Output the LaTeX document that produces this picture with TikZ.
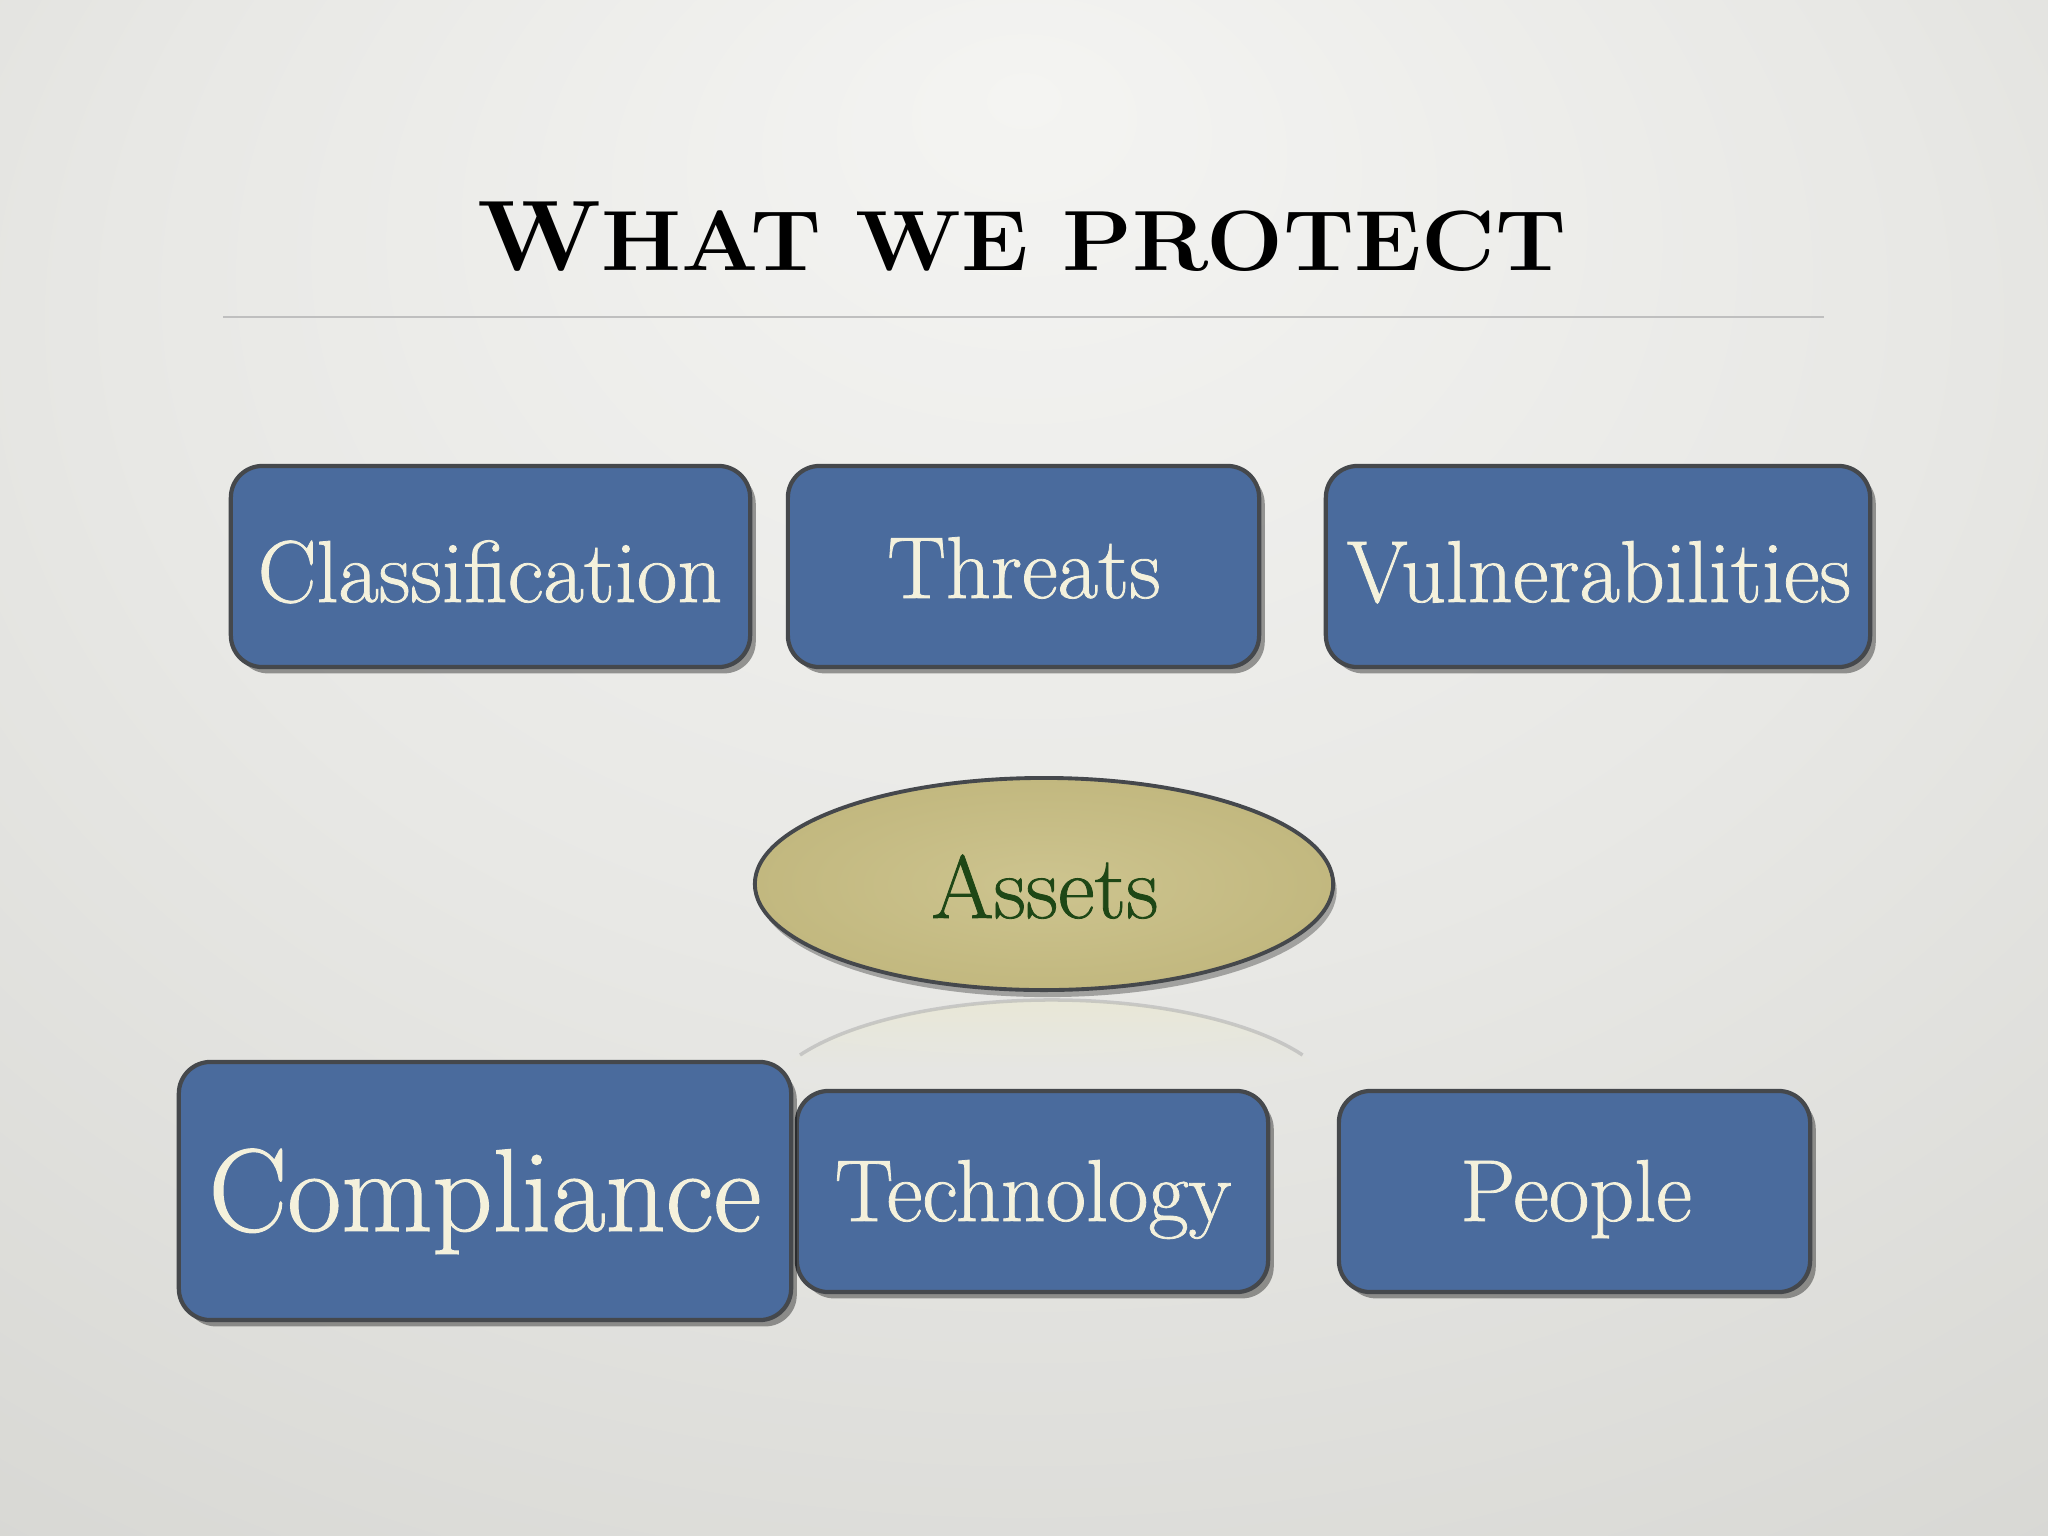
\documentclass[tikz,border=0pt]{standalone}
\usepackage{fontspec}
\newfontfamily\boxfont{Latin Modern Roman}[AutoFakeBold=0.9]
\usetikzlibrary{shapes.geometric,shadows,fadings}
\definecolor{boxblue}{HTML}{4A6B9D}
\definecolor{boxedge}{HTML}{45484C}
\definecolor{cream}{HTML}{F4F1DC}
\definecolor{tanin}{HTML}{CDC48F}
\definecolor{tanout}{HTML}{C2B87F}
\definecolor{assetgreen}{HTML}{1E4716}
\definecolor{reflcol}{HTML}{E9E7D2}
\definecolor{bgA}{HTML}{F4F4F2}
\definecolor{bgB}{HTML}{E8E8E5}
\definecolor{bgC}{HTML}{D6D6D2}
\definecolor{bgD}{HTML}{C4C4BF}
\pgfdeclareradialshading{bgshade}{\pgfpoint{0bp}{22bp}}{color(0bp)=(bgA); color(22bp)=(bgB); color(45bp)=(bgC); color(71bp)=(bgD)}
\tikzset{
  bluebox/.style={rectangle, rounded corners=9pt, fill=boxblue, draw=boxedge, line width=1.2pt,
    drop shadow={shadow xshift=1.6pt, shadow yshift=-1.8pt, opacity=0.38, fill=black}},
  boxtext/.style={anchor=base, text=cream, inner sep=0pt, font=\boxfont\bfseries\fontsize{25}{29}\selectfont},
  bigtext/.style={boxtext, font=\boxfont\bfseries\fontsize{33.5}{38}\selectfont},
}
\begin{document}
\begin{tikzpicture}[x=0.01cm, y=-0.01cm]
\useasboundingbox (0,0) rectangle (2048,1536);
\shade[shading=bgshade] (0,0) rectangle (2048,1536);

% title
\node[anchor=base, inner sep=0pt] (title) at (1022,270)
  {\scalebox{1.065}[1]{\bfseries\fontsize{28.5}{30}\selectfont W\fontsize{24.3}{26}\selectfont HAT WE PROTECT}};
\coordinate (ruleL) at (223,317);
\coordinate (ruleR) at (1824,317);
\draw[color=black!25, line width=0.6pt] (ruleL) -- (ruleR);

% top row
\node[bluebox, minimum width=5.19cm, minimum height=2.01cm] (cls) at (490.5,566.5) {};
\node[boxtext] (clsT) at (490,602) {Classification};
\node[bluebox, minimum width=4.71cm, minimum height=2.01cm] (thr) at (1023.5,566.5) {};
\node[boxtext] (thrT) at (1024,598) {Threats};
\node[bluebox, minimum width=5.44cm, minimum height=2.01cm] (vul) at (1598,566.5) {};
\node[boxtext] (vulT) at (1599,602) {Vulnerabilities};

% assets ellipse and reflection
\fill[reflcol, path fading=south, opacity=0.9]
  (784,1067) arc[start angle=157, end angle=23, x radius=2.9cm, y radius=1.1cm] -- cycle;
\draw[color=black!30, line width=1pt, opacity=0.6]
  (800,1055) arc[start angle=150, end angle=30, x radius=2.9cm, y radius=1.1cm];
\node[ellipse, minimum width=5.78cm, minimum height=2.12cm, inner color=tanin, outer color=tanout,
  draw=boxedge, line width=1.1pt,
  drop shadow={shadow xshift=1pt, shadow yshift=-2pt, opacity=0.3, fill=black}] (ast) at (1044,884) {};
\node[anchor=base, inner sep=0pt, text=assetgreen, font=\boxfont\bfseries\fontsize{25.5}{29}\selectfont] (astT) at (1045,918) {Assets};

% bottom row
\node[bluebox, minimum width=4.71cm, minimum height=2.01cm] (tec) at (1032.5,1191.5) {};
\node[boxtext] (tecT) at (1033,1221) {Technology};
\node[bluebox, minimum width=6.12cm, minimum height=2.58cm] (com) at (485,1191) {};
\node[bigtext] (comT) at (485,1231) {Compliance};
\node[bluebox, minimum width=4.71cm, minimum height=2.01cm] (peo) at (1574.5,1191.5) {};
\node[boxtext] (peoT) at (1576,1221) {People};
\end{tikzpicture}
\end{document}
